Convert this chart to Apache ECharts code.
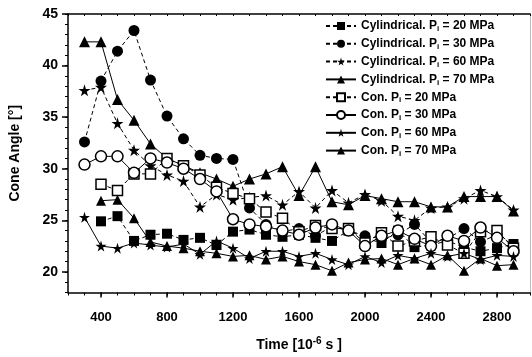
<!DOCTYPE html>
<html lang="en">
<head>
    <meta charset="UTF-8">
    <title>Cone Angle</title>
    <script src="https://cdn.jsdelivr.net/npm/echarts@6/dist/echarts.min.js"></script>
    <style>
        html, body { margin: 0; padding: 0; background: #fff; }
    </style>
</head>
<body>
<div id="main" style="width: 532px;height: 357px"></div>
<script>
    // time points (10^-6 s)
    var times = [300, 400, 500, 600, 700, 800, 900, 1000, 1100, 1200, 1300, 1400, 1500, 1600,
        1700, 1800, 1900, 2000, 2100, 2200, 2300, 2400, 2500, 2600, 2700, 2800, 2900];

    var cyl20 = [null, 24.9, 25.4, 23.0, 23.6, 23.7, 23.1, 23.3, 22.6, 23.9, 24.1, 23.6, 23.4, 23.6,
        23.3, 23.0, 24.0, 23.3, 22.8, 24.0, 22.4, 22.6, 23.0, 22.4, 22.0, 22.3, 22.7];
    var cyl30 = [32.6, 38.5, 41.4, 43.4, 38.6, 35.1, 32.9, 31.3, 31.0, 30.9, 26.2, 24.6, 23.9, 24.2,
        23.5, 24.4, 24.0, 23.5, 23.2, 23.6, 24.6, 22.9, 23.2, 24.2, 22.9, 23.6, 22.6];
    var cyl60 = [37.6, 37.9, 34.4, 31.8, 30.3, 29.4, 28.8, 26.3, 27.5, 27.0, 27.2, 27.4, 26.5, 27.8,
        26.2, 27.9, 26.7, 27.5, 26.9, 25.4, 25.0, 26.2, 26.3, 27.1, 27.9, 27.3, 26.0];
    var cyl70 = [42.3, 42.3, 36.7, 34.7, 32.4, 31.0, 30.3, 29.6, 29.0, 28.3, 29.0, 29.5, 30.2, 27.4,
        30.2, 26.8, 26.5, 27.4, 27.1, 26.8, 26.8, 26.3, 26.3, 27.3, 27.3, 27.3, 25.9];
    var con20 = [null, 28.5, 27.9, 29.5, 29.5, 31.0, 30.3, 29.4, 28.2, 27.6, 27.1, 25.8, 25.2, 23.9,
        24.5, 24.2, 24.2, 22.8, 23.8, 22.5, 23.0, 23.4, 22.6, 21.8, 23.9, 24.0, 22.3];
    var con30 = [30.4, 31.2, 31.2, 29.6, 31.0, 30.6, 30.0, 29.0, 27.8, 25.1, 24.6, 24.4, 24.0, 23.6,
        24.3, 24.6, 24.0, 22.5, 23.5, 24.0, 23.2, 22.5, 23.5, 23.0, 24.3, 23.3, 22.0];
    var con60 = [25.3, 22.5, 22.3, 22.8, 22.6, 22.4, 22.7, 21.7, 23.0, 22.3, 21.3, 22.0, 22.0, 21.5,
        21.8, 21.2, 20.7, 21.5, 20.9, 21.6, 21.3, 21.8, 21.5, 21.8, 21.2, 21.6, 21.5];
    var con70 = [null, 26.9, 27.0, 25.2, 22.9, 22.5, 22.3, 22.0, 21.8, 21.5, 21.6, 21.2, 21.5, 21.0,
        20.7, 20.1, 20.9, 21.2, 21.3, 20.7, 21.3, 20.7, 21.6, 20.1, 21.3, 20.6, 20.7];

    var xLabels = [400, 800, 1200, 1600, 2000, 2400, 2800];
    var yLabels = [20, 25, 30, 35, 40, 45];

    var star = 'path://M50,0 L61,35 L98,35 L68,57 L79,91 L50,70 L21,91 L32,57 L2,35 L39,35 Z';
    var font = 'Liberation Sans';

    function pairs(vals) {
        var out = [];
        for (var i = 0; i < times.length; i++) {
            if (vals[i] != null) out.push([times[i], vals[i]]);
        }
        return out;
    }

    function line(name, vals, symbol, size, open, dash) {
        return {
            name: name,
            type: 'line',
            data: pairs(vals),
            symbol: symbol,
            symbolSize: size,
            showSymbol: true,
            animation: false,
            itemStyle: {
                color: open ? '#fff' : '#000',
                borderColor: '#000',
                borderWidth: open ? 1.5 : 0
            },
            lineStyle: {color: '#000', width: 1, type: dash ? [4, 3] : 'solid'}
        };
    }

    var chart = echarts.init(document.getElementById('main'));
    var option = {
        backgroundColor: '#fff',
        animation: false,
        grid: {left: 64, right: 2, top: 14, bottom: 62},
        legend: {
            orient: 'vertical',
            left: 325,
            top: 19,
            padding: 0,
            itemWidth: 30,
            itemHeight: 10,
            itemGap: 3.8,
            formatter: function (name) {
                return '{a|' + name.replace(' Pi ', ' P}{s|i}{a| ') + '}';
            },
            textStyle: {
                rich: {
                    a: {fontFamily: font, fontWeight: 'bold', fontSize: 12, color: '#000', lineHeight: 12},
                    s: {fontFamily: font, fontWeight: 'bold', fontSize: 8, color: '#000', lineHeight: 12,
                        padding: [6, 0, 0, 0]}
                }
            }
        },
        xAxis: [{
            type: 'value',
            min: 200,
            max: 3000,
            position: 'bottom',
            name: '{a|Time [10}{s|-6}{a| s ]}',
            nameLocation: 'middle',
            nameGap: 44,
            nameTextStyle: {
                rich: {
                    a: {fontFamily: font, fontWeight: 'bold', fontSize: 14, color: '#000'},
                    s: {fontFamily: font, fontWeight: 'bold', fontSize: 10, color: '#000', padding: [0, 0, 7, 0]}
                }
            },
            axisLine: {onZero: false, lineStyle: {color: '#000', width: 1.5}},
            axisTick: {customValues: xLabels, length: 5, lineStyle: {color: '#000', width: 1.5}},
            axisLabel: {
                customValues: xLabels, margin: 18, fontFamily: font, fontWeight: 'bold', fontSize: 13, color: '#000',
                formatter: function (v) { return String(v); }
            },
            splitLine: {show: false}
        }, {
            type: 'value',
            min: 200,
            max: 3000,
            interval: 100,
            position: 'bottom',
            axisLine: {show: false},
            axisTick: {length: 3, lineStyle: {color: '#000', width: 1}},
            axisLabel: {show: false},
            splitLine: {show: false}
        }, {
            type: 'value',
            min: 200,
            max: 3000,
            interval: 100,
            position: 'top',
            axisLine: {onZero: false, lineStyle: {color: '#000', width: 1.5}},
            axisTick: {inside: true, length: 2, lineStyle: {color: '#000'}},
            axisLabel: {show: false},
            splitLine: {show: false}
        }],
        yAxis: [{
            type: 'value',
            min: 18,
            max: 45,
            position: 'left',
            name: 'Cone Angle [°]',
            nameLocation: 'middle',
            nameGap: 46,
            nameTextStyle: {fontFamily: font, fontWeight: 'bold', fontSize: 14, color: '#000'},
            axisLine: {onZero: false, lineStyle: {color: '#000', width: 1.5}},
            axisTick: {customValues: yLabels, length: 6, lineStyle: {color: '#000', width: 1.5}},
            axisLabel: {customValues: yLabels, margin: 10, fontFamily: font, fontWeight: 'bold', fontSize: 14, color: '#000'},
            splitLine: {show: false}
        }, {
            type: 'value',
            min: 18,
            max: 45,
            interval: 1,
            position: 'left',
            axisLine: {show: false},
            axisTick: {length: 3, lineStyle: {color: '#000'}},
            axisLabel: {show: false},
            splitLine: {show: false}
        }, {
            type: 'value',
            min: 18,
            max: 45,
            position: 'right',
            axisLine: {onZero: false, lineStyle: {color: '#bbb', width: 1}},
            axisTick: {show: false},
            axisLabel: {show: false},
            splitLine: {show: false}
        }],
        series: [
            line('Cylindrical. Pi = 20 MPa', cyl20, 'rect', 10, false, true),
            line('Cylindrical. Pi = 30 MPa', cyl30, 'circle', 11, false, true),
            line('Cylindrical. Pi = 60 MPa', cyl60, star, 12, false, true),
            line('Cylindrical. Pi = 70 MPa', cyl70, 'triangle', 11, false, false),
            line('Con. Pi = 20 MPa', con20, 'rect', 10, true, true),
            line('Con. Pi = 30 MPa', con30, 'circle', 11, true, false),
            line('Con. Pi = 60 MPa', con60, star, 11, false, false),
            line('Con. Pi = 70 MPa', con70, 'triangle', 10, false, false)
        ]
    };
    chart.setOption(option);
</script>
</body>
</html>
